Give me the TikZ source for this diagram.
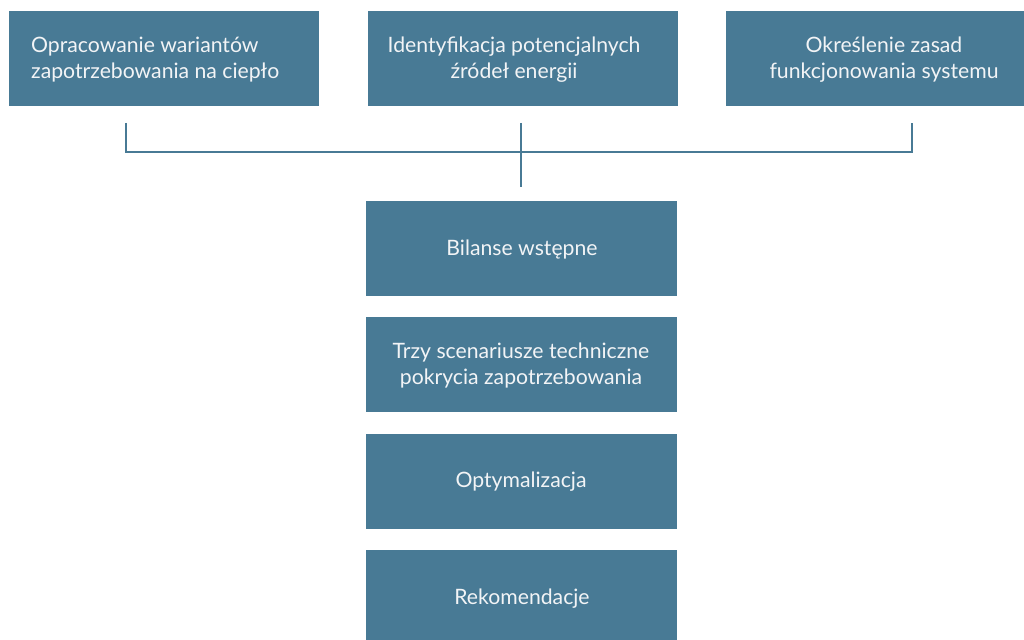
\documentclass[tikz,border=0pt]{standalone}
\usepackage{fontspec}
\setmainfont{Lato}
\definecolor{boxblue}{HTML}{487A95}
\definecolor{txtwhite}{HTML}{F2F4F6}
\begin{document}
\begin{tikzpicture}[x=1pt,y=-1pt,
  box/.style={fill=boxblue,draw=none,inner sep=0pt,anchor=north west},
  txt/.style={text=txtwhite,font=\fontsize{21.2}{26}\selectfont,align=center,inner sep=0pt},
  conn/.style={draw=boxblue,line width=2.4pt}]
\useasboundingbox (0,0) rectangle (1024,639);
% top boxes
\node[box,minimum width=310pt,minimum height=95pt] (b1) at (9,11) {};
\node[box,minimum width=310pt,minimum height=95pt] (b2) at (368,11) {};
\node[box,minimum width=299pt,minimum height=95pt] (b3) at (726,11) {};
\node[txt,align=left,anchor=west] (t1) at (31,60) {Opracowanie wariantów\\zapotrzebowania na ciepło};
\node[txt] (t2) at (514,60) {Identyfikacja potencjalnych\\źródeł energii};
\node[txt] (t3) at (884,60) {Określenie zasad\\funkcjonowania systemu};
% bottom boxes
\node[box,minimum width=311pt,minimum height=95pt] (c1) at (366,201) {};
\node[box,minimum width=311pt,minimum height=95pt] (c2) at (366,317) {};
\node[box,minimum width=311pt,minimum height=95pt] (c3) at (366,434) {};
\node[box,minimum width=311pt,minimum height=90pt] (c4) at (366,550) {};
\node[txt] (u1) at (522,250) {Bilanse wstępne};
\node[txt] (u2) at (521,366) {Trzy scenariusze techniczne\\pokrycia zapotrzebowania};
\node[txt] (u3) at (521,482) {Optymalizacja};
\node[txt] (u4) at (522,599) {Rekomendacje};
% connectors
\coordinate (p1) at (126,123);
\coordinate (p2) at (521,123);
\coordinate (p3) at (912,123);
\coordinate (q) at (521,187);
\draw[conn] (p1) |- (p3 |- 0,152) -- (p3);
\draw[conn] (p2) -- (q);
\end{tikzpicture}
\end{document}
